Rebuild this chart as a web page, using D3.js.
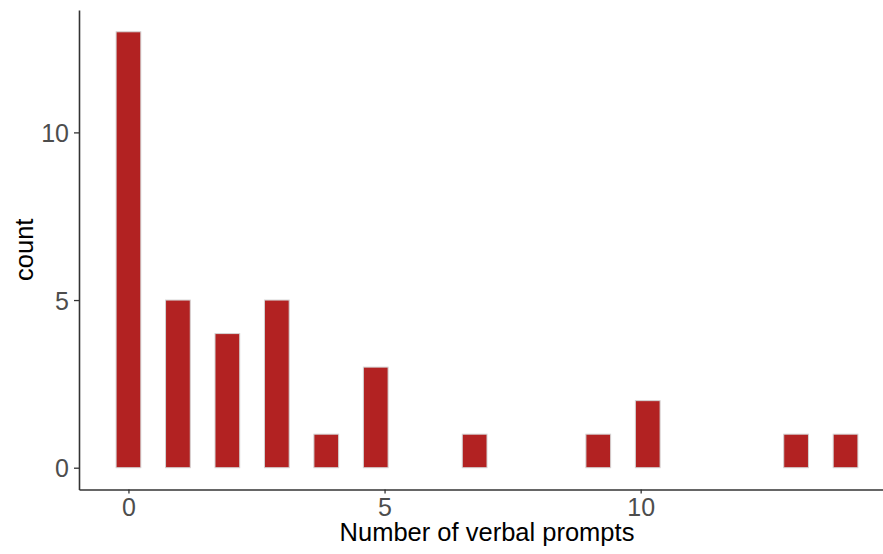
<!DOCTYPE html>
<html>
<head>
<meta charset="utf-8">
<script src="https://cdn.jsdelivr.net/npm/d3@7"></script>
<style>
  html, body { margin: 0; padding: 0; background: #fff; }
  svg { display: block; }
  text { font-family: "Liberation Sans", Arial, Helvetica, sans-serif; }
</style>
</head>
<body>
<svg id="chart" width="883" height="554"></svg>
<script>
// Data: number of verbal prompts (observed values) and how many times each occurred
const promptValues = [0, 1, 2, 3, 4, 5, 7, 9, 10, 13, 14];
const promptCounts = [13, 5, 4, 5, 1, 3, 1, 1, 2, 1, 1];
const xTicks = [0, 5, 10];
const yTicks = [0, 5, 10];
const xTitle = "Number of verbal prompts";
const yTitle = "count";

// ggplot-style histogram binning: 30 bins, centered on min, right-closed
const nBins = 30;
const vMin = d3.min(promptValues), vMax = d3.max(promptValues);
const binWidth = (vMax - vMin) / (nBins - 1);
const bars = promptValues.map((v, i) => {
  const k = Math.ceil((v - vMin) / binWidth - 0.5 - 1e-9);
  const center = vMin + k * binWidth;
  return { x0: center - binWidth / 2, x1: center + binWidth / 2, count: promptCounts[i] };
});

const svg = d3.select("#chart");
const pLeft = 79, pRight = 895, pTop = 10, pBottom = 489.5;

const xLo = vMin - binWidth / 2, xHi = vMax + binWidth / 2;
const xPad = (xHi - xLo) * 0.05;
const x = d3.scaleLinear().domain([xLo - xPad, xHi + xPad]).range([pLeft, pRight]);
const yMax = d3.max(promptCounts);
const y = d3.scaleLinear().domain([-yMax * 0.05, yMax * 1.05]).range([pBottom, pTop]);

// bars
svg.append("g").selectAll("rect").data(bars).join("rect")
  .attr("x", d => x(d.x0))
  .attr("width", d => x(d.x1) - x(d.x0))
  .attr("y", d => y(d.count))
  .attr("height", d => y(0) - y(d.count))
  .attr("fill", "#B22222")
  .attr("stroke", "#d4d4d4")
  .attr("stroke-width", 1);

// x axis
const xAxis = svg.append("g").attr("transform", `translate(0,${pBottom})`)
  .call(d3.axisBottom(x).tickValues(xTicks).tickFormat(d3.format("d"))
    .tickSize(4).tickSizeOuter(0).tickPadding(5));
xAxis.select(".domain").attr("stroke", "#333").attr("stroke-width", 1.6);
xAxis.selectAll(".tick line").attr("stroke", "#333").attr("stroke-width", 1.3);
xAxis.selectAll(".tick text").attr("fill", "#4d4d4d").attr("font-size", 25);

// y axis
const yAxis = svg.append("g").attr("transform", `translate(${pLeft},0)`)
  .call(d3.axisLeft(y).tickValues(yTicks).tickFormat(d3.format("d"))
    .tickSize(5).tickSizeOuter(0).tickPadding(5));
yAxis.select(".domain").attr("stroke", "#333").attr("stroke-width", 1.6);
yAxis.selectAll(".tick line").attr("stroke", "#333").attr("stroke-width", 1.3);
yAxis.selectAll(".tick text").attr("fill", "#4d4d4d").attr("font-size", 25).attr("dy", "0.36em");

// titles
svg.append("text")
  .attr("x", (pLeft + pRight) / 2).attr("y", 541)
  .attr("text-anchor", "middle").attr("font-size", 25.5).attr("fill", "#000")
  .text(xTitle);
svg.append("text")
  .attr("transform", `translate(33,${(pTop + pBottom) / 2}) rotate(-90)`)
  .attr("text-anchor", "middle").attr("font-size", 25.5).attr("fill", "#000")
  .text(yTitle);
</script>
</body>
</html>
